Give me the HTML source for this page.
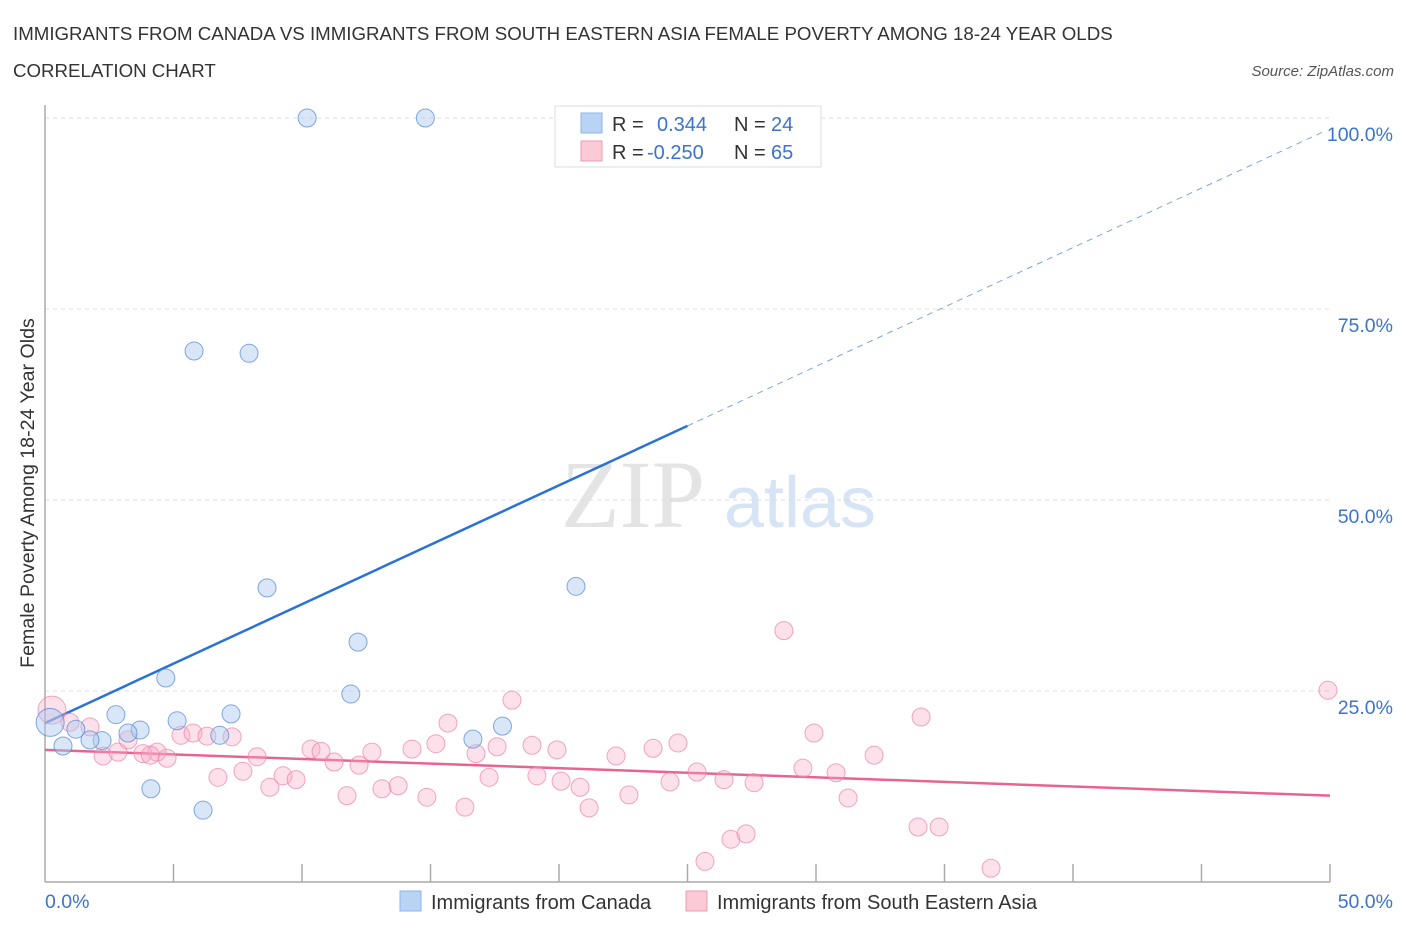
<!DOCTYPE html>
<html><head><meta charset="utf-8"><style>
body{margin:0;background:#fff;font-family:"Liberation Sans",sans-serif;}
svg text{font-family:"Liberation Sans",sans-serif;}
</style></head><body>
<svg id="c" width="1406" height="930" xmlns="http://www.w3.org/2000/svg">
<text x="13" y="40" font-size="18.7" fill="#333">IMMIGRANTS FROM CANADA VS IMMIGRANTS FROM SOUTH EASTERN ASIA FEMALE POVERTY AMONG 18-24 YEAR OLDS</text>
<text x="13" y="77" font-size="18.7" fill="#333">CORRELATION CHART</text>
<text x="1394" y="76" font-size="15" fill="#555" font-style="italic" text-anchor="end">Source: ZipAtlas.com</text>
<text x="633" y="527" font-size="96" fill="#e4e4e4" text-anchor="middle" style="font-family:'Liberation Serif',serif">ZIP</text>
<text x="800" y="527" font-size="72" fill="#d6e4f5" text-anchor="middle">atlas</text>
<g id="grid"></g><g id="axes"></g><g id="lines"></g><g id="pts"></g>
<text transform="translate(34,493) rotate(-90)" font-size="19.6" fill="#333" text-anchor="middle">Female Poverty Among 18-24 Year Olds</text>
<g>
<rect x="555" y="106" width="266" height="61" fill="#fff" stroke="#ddd"/>
<rect x="581" y="113" width="21" height="20" fill="#b9d3f5" stroke="#8db4e8"/>
<rect x="581" y="141" width="21" height="20" fill="#fcc9d7" stroke="#f09ab3"/>
<text x="612" y="131" font-size="20" fill="#333">R = </text><text x="657" y="131" font-size="20" fill="#3a73d0">0.344</text>
<text x="734" y="131" font-size="20" fill="#333">N = </text><text x="771" y="131" font-size="20" fill="#3a73d0">24</text>
<text x="612" y="159" font-size="20" fill="#333">R = </text><text x="647" y="159" font-size="20" fill="#3a73d0">-0.250</text>
<text x="734" y="159" font-size="20" fill="#333">N = </text><text x="771" y="159" font-size="20" fill="#3a73d0">65</text>
</g>
<g>
<rect x="400" y="891" width="21" height="20" fill="#b9d3f5" stroke="#8db4e8"/>
<text x="431" y="909" font-size="20" fill="#333">Immigrants from Canada</text>
<rect x="686" y="891" width="21" height="20" fill="#fcc9d7" stroke="#f09ab3"/>
<text x="717" y="909" font-size="20" fill="#333">Immigrants from South Eastern Asia</text>
</g>
</svg>
<script>
const blueX=[10.2,14.8,5.8,7.94,8.64,20.66,12.18,11.9,4.7,2.76,5.14,7.24,3.7,3.23,2.22,1.75,1.2,0.7,0.2,6.8,16.65,17.8,4.12,6.15];
const blueY=[100,100,69.5,69.2,38.5,38.7,31.4,24.6,26.7,21.9,21.1,22.0,19.9,19.5,18.5,18.6,20.0,17.8,20.9,19.2,18.7,20.4,12.2,9.4];
const blueR=[9,9,9,9,9,9,9,9,9,9,9,9,9,9,9,9,9,9,14,9,9,9,9,9];
const pinkX=[0.27,0.97,1.75,2.26,2.84,3.23,3.81,4.36,4.75,5.29,5.76,6.3,7.28,6.73,7.7,8.25,8.75,9.26,9.77,10.35,10.74,11.25,11.75,12.22,12.72,13.11,13.74,14.28,14.86,15.21,15.68,16.34,16.77,17.28,17.59,18.17,18.95,19.14,19.92,20.08,20.82,21.17,22.22,22.72,23.66,24.32,24.63,25.37,25.68,26.42,26.69,27.28,27.59,28.75,29.49,29.92,30.78,31.25,32.26,33.97,34.09,34.79,36.81,49.92,4.1];
const pinkY=[22.5,20.9,20.3,16.5,17.0,18.6,16.8,17.0,16.2,19.2,19.5,19.1,19.0,13.7,14.5,16.4,12.4,13.9,13.4,17.4,17.1,15.7,11.3,15.3,17.0,12.2,12.6,17.4,11.1,18.1,20.8,9.8,16.8,13.7,17.7,23.8,17.9,13.9,17.3,13.2,12.4,9.7,16.5,11.4,17.5,13.1,18.2,14.4,2.7,13.4,5.6,6.3,13.0,32.9,14.9,19.5,14.3,11.0,16.6,7.2,21.6,7.2,1.8,25.1,16.6];
const blueTrend=[20.8,1.556];
const pinkTrend=[17.3,-0.12];
const yTicks=[25,50,75,100];
const yTickLabels=["25.0%","50.0%","75.0%","100.0%"];
const xTicks=[0,5,10,15,20,25,30,35,40,45,50];
const NS="http://www.w3.org/2000/svg";
const sx=v=>45+v*25.7, sy=v=>882-v*7.64;
function mk(p,t,a){const e=document.createElementNS(NS,t);for(const k in a)e.setAttribute(k,a[k]);document.getElementById(p).appendChild(e);return e;}
yTicks.forEach((t,i)=>{
 const g=mk('grid','line',{x1:45,x2:1330,y1:sy(t),y2:sy(t),stroke:'#ddd','stroke-dasharray':'4,4'});
 
 
 const l=mk('grid','text',{x:1393,y:sy(t)+23,'font-size':19.5,fill:'#3a73d0','text-anchor':'end'});l.textContent=yTickLabels[i];
 
 
});
let a=mk('axes','line',{x1:45,x2:45,y1:105,y2:882,stroke:'#aaa','stroke-width':1.5});


a=mk('axes','line',{x1:45,x2:1330,y1:882,y2:882,stroke:'#aaa','stroke-width':1.5});


xTicks.slice(1).forEach(t=>{const e=mk('axes','line',{x1:sx(t),x2:sx(t),y1:864,y2:882,stroke:'#aaa','stroke-width':1.5});
 
 });
let t=mk('axes','text',{x:45,y:908,'font-size':19.5,fill:'#3a73d0'});t.textContent='0.0%';


t=mk('axes','text',{x:1393,y:908,'font-size':19.5,fill:'#3a73d0','text-anchor':'end'});t.textContent='50.0%';


pinkX.forEach((x,i)=>{const c=mk('pts','circle',{cx:sx(x),cy:sy(pinkY[i]),r:i==0?14:9,fill:'rgba(248,170,195,0.35)',stroke:'rgba(236,130,165,0.7)','stroke-width':1});
 
 });
blueX.forEach((x,i)=>{const c=mk('pts','circle',{cx:sx(x),cy:sy(blueY[i]),r:blueR[i],fill:'rgba(170,200,240,0.45)',stroke:'rgba(90,140,215,0.75)','stroke-width':1});
 
 });
let L=mk('lines','line',{x1:sx(0),y1:sy(blueTrend[0]),x2:sx(25),y2:sy(blueTrend[0]+blueTrend[1]*25),stroke:'#2a72d6','stroke-width':2.5});


L=mk('lines','line',{x1:sx(25),y1:sy(blueTrend[0]+blueTrend[1]*25),x2:sx(49.8),y2:sy(blueTrend[0]+blueTrend[1]*49.8),stroke:'#7aa5e0','stroke-width':1,'stroke-dasharray':'6,5'});


L=mk('lines','line',{x1:sx(0),y1:sy(pinkTrend[0]),x2:sx(50),y2:sy(pinkTrend[0]+pinkTrend[1]*50),stroke:'#e8648f','stroke-width':2.5});


</script>
</body></html>
